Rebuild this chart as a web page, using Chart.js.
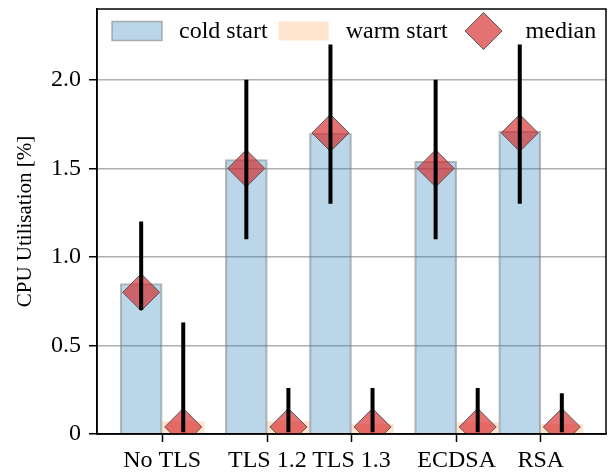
<!DOCTYPE html>
<html>
<head>
<meta charset="utf-8">
<script src="https://cdn.jsdelivr.net/npm/chart.js@4"></script>
<style>
  html, body { margin: 0; padding: 0; background: #fff; }
  #wrap { width: 616px; height: 473px; }
</style>
</head>
<body>
<div id="wrap"><canvas id="cpuChart" width="616" height="473"></canvas></div>
<script>
const categories = ["No TLS", "TLS 1.2", "TLS 1.3", "ECDSA", "RSA"];
const positions = [0, 1.25, 2.25, 3.5, 4.5];

const coldMean = [0.85, 1.55, 1.70, 1.54, 1.71];
const warmMean = [0.07, 0.07, 0.055, 0.065, 0.055];
const coldMedian = [0.8, 1.5, 1.7, 1.5, 1.7];
const warmMedian = [0.04, 0.04, 0.04, 0.04, 0.04];
const coldMin = [0.7, 1.1, 1.3, 1.1, 1.3];
const coldMax = [1.2, 2.0, 2.2, 2.0, 2.2];
const warmMin = [0.01, 0.01, 0.01, 0.01, 0.01];
const warmMax = [0.63, 0.26, 0.26, 0.26, 0.23];

const yTicks = [0, 0.5, 1.0, 1.5, 2.0];
const yTickLabels = ["0", "0.5", "1.0", "1.5", "2.0"];

const COLD = "rgba(31, 119, 180, 0.3)";
const WARM = "rgba(255, 127, 14, 0.2)";
const RED = "rgba(214, 39, 40, 0.65)";
const FONT = "'Liberation Serif', 'DejaVu Serif', serif";

Chart.defaults.font.family = FONT;
Chart.defaults.color = "#000";

const half = 0.25;

const errorBars = {
  id: "errorBars",
  afterDatasetsDraw(chart) {
    const { ctx, scales: { x, y } } = chart;
    ctx.save();
    ctx.strokeStyle = "#000";
    ctx.lineWidth = 4;
    positions.forEach((p, i) => {
      [[p - half, coldMin[i], coldMax[i]], [p + half, warmMin[i], warmMax[i]]].forEach(([xv, lo, hi]) => {
        const px = x.getPixelForValue(xv);
        ctx.beginPath();
        ctx.moveTo(px, y.getPixelForValue(lo));
        ctx.lineTo(px, y.getPixelForValue(hi));
        ctx.stroke();
      });
    });
    ctx.restore();
  },
  afterDraw(chart) {
    const { ctx, chartArea: a } = chart;
    ctx.save();
    // axes frame
    ctx.strokeStyle = "#000";
    ctx.lineWidth = 1.5;
    ctx.strokeRect(a.left, a.top, a.right - a.left, a.bottom - a.top);

    // legend
    ctx.font = "24px " + FONT;
    ctx.textBaseline = "middle";
    ctx.fillStyle = "#000";
    const cy = a.top + 22;
    let xp = a.left + 15;
    const items = [
      { label: "cold start", kind: "cold" },
      { label: "warm start", kind: "warm" },
      { label: "median", kind: "median" },
    ];
    items.forEach((it) => {
      if (it.kind === "cold") {
        ctx.fillStyle = COLD;
        ctx.fillRect(xp, cy - 9.5, 50, 19);
        ctx.strokeStyle = "rgba(128,128,128,0.6)";
        ctx.lineWidth = 1.5;
        ctx.strokeRect(xp, cy - 9.5, 50, 19);
      } else if (it.kind === "warm") {
        ctx.fillStyle = WARM;
        ctx.fillRect(xp, cy - 9.5, 50, 19);
      } else {
        const mx = xp + 25, r = 18.5;
        ctx.beginPath();
        ctx.moveTo(mx - r, cy);
        ctx.lineTo(mx, cy - r);
        ctx.lineTo(mx + r, cy);
        ctx.lineTo(mx, cy + r);
        ctx.closePath();
        ctx.fillStyle = RED;
        ctx.fill();
        ctx.strokeStyle = "#555";
        ctx.lineWidth = 1;
        ctx.stroke();
      }
      ctx.fillStyle = "#000";
      const tx = xp + 67;
      ctx.fillText(it.label, tx, cy + 1);
      xp = tx + ctx.measureText(it.label).width + 11;
    });
    ctx.restore();
  },
};

const medianPoints = [];
positions.forEach((p, i) => {
  medianPoints.push({ x: p - half, y: coldMedian[i] });
  medianPoints.push({ x: p + half, y: warmMedian[i] });
});

new Chart(document.getElementById("cpuChart"), {
  type: "bar",
  data: {
    datasets: [
      {
        type: "line",
        label: "median",
        data: medianPoints,
        showLine: false,
        pointStyle: "rectRot",
        pointRadius: 18.5,
        pointBackgroundColor: RED,
        pointBorderColor: "#555",
        pointBorderWidth: 1,
        order: 1,
      },
      {
        label: "cold start",
        data: positions.map((p, i) => ({ x: p - half, y: coldMean[i] })),
        backgroundColor: COLD,
        borderColor: "rgba(128,128,128,0.55)",
        borderWidth: 1.5,
        grouped: false,
        barPercentage: 1,
        categoryPercentage: 1,
        order: 2,
      },
      {
        label: "warm start",
        data: positions.map((p, i) => ({ x: p + half, y: warmMean[i] })),
        backgroundColor: WARM,
        borderWidth: 0,
        grouped: false,
        barPercentage: 1,
        categoryPercentage: 1,
        order: 3,
      },
    ],
  },
  options: {
    responsive: false,
    animation: false,
    layout: { autoPadding: false, padding: { top: 9, right: 10, left: 0, bottom: 0 } },
    plugins: { legend: { display: false }, tooltip: { enabled: false } },
    scales: {
      x: {
        type: "linear",
        offset: false,
        min: -0.775,
        max: 5.275,
        afterBuildTicks: (scale) => {
          scale.ticks = positions.map((v) => ({ value: v }));
        },
        afterFit: (scale) => {
          scale.height = 39;
          scale.paddingLeft = 0;
          scale.paddingRight = 0;
        },
        ticks: {
          autoSkip: false,
          maxRotation: 0,
          padding: 4,
          font: { size: 24 },
          callback: (v) => categories[positions.indexOf(v)],
        },
        grid: {
          offset: false,
          drawOnChartArea: false,
          tickLength: 8,
          tickColor: "#000",
          tickWidth: 1.5,
        },
        border: { color: "#000", width: 1.5 },
      },
      y: {
        min: 0,
        max: 2.4,
        afterBuildTicks: (scale) => {
          scale.ticks = yTicks.map((v) => ({ value: v }));
        },
        afterFit: (scale) => {
          scale.width = 97;
          scale.paddingTop = 0;
          scale.paddingBottom = 0;
        },
        ticks: {
          padding: 8,
          font: { size: 24 },
          callback: (v) => yTickLabels[yTicks.indexOf(v)],
        },
        grid: {
          color: "#b0b0b0",
          lineWidth: 1.5,
          tickLength: 8,
          tickColor: "#000",
          tickWidth: 1.5,
        },
        border: { color: "#000", width: 1.5 },
        title: {
          display: true,
          text: "CPU Utilisation [%]",
          font: { size: 21 },
          padding: { top: 13, bottom: 0 },
        },
      },
    },
  },
  plugins: [errorBars],
});
</script>
</body>
</html>
